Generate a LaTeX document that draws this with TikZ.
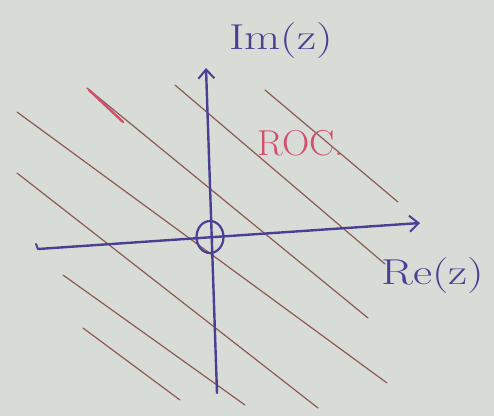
\documentclass[tikz,border=0pt]{standalone}
\usetikzlibrary{arrows.meta,shapes.geometric}
\definecolor{paper}{HTML}{D7DCD7}
\definecolor{hatch}{HTML}{8E5A52}
\definecolor{axisblue}{HTML}{4A3F92}
\definecolor{rocred}{HTML}{D44E6C}
\begin{document}
\begin{tikzpicture}[x=1pt,y=-1pt,
  hatchline/.style={draw=hatch,line width=1.2pt,line cap=round},
  axisline/.style={draw=axisblue,line width=2.4pt,line cap=round,
    -{Straight Barb[length=9pt,width=16pt,line width=2pt]}},
  lbl/.style={text=axisblue,font=\fontsize{36}{36}\selectfont,inner sep=0pt,xscale=1.3}]
\useasboundingbox[fill=paper] (0,0) rectangle (494,416);
% hatch lines
\draw[hatchline] (87,88) -- (368,318);
\draw[draw=rocred,line width=2.4pt,line cap=round] (89,90) -- (123,122);
\draw[hatchline] (175,85) -- (385,264);
\draw[hatchline] (265,90) -- (398,202);
\draw[hatchline] (17,112) -- (387,383);
\draw[hatchline] (17,173) -- (318,408);
\draw[hatchline] (63,275) -- (245,405);
\draw[hatchline] (83,328) -- (180,400);
% axes
\coordinate (ybot) at (217,393);
\coordinate (ytop) at (206,68);
\coordinate (xleft) at (38,249);
\coordinate (xright) at (420,223);
\draw[axisline] (ybot) -- (ytop);
\draw[axisline] (xleft) -- (xright);
\draw[draw=axisblue,line width=2pt,line cap=round] (xleft) -- (36,244);
% origin marker
\node[draw=axisblue,line width=2.2pt,ellipse,minimum width=27pt,minimum height=32pt,inner sep=0pt] (origin) at (210,237) {};
% labels
\node[lbl] (im) at (281,41) {Im(z)};
\node[lbl] (re) at (433,276) {Re(z)};
\node[text=rocred,font=\fontsize{36}{36}\selectfont,inner sep=0pt,xscale=1.05] (roc) at (301,143) {ROC.};
\end{tikzpicture}
\end{document}
